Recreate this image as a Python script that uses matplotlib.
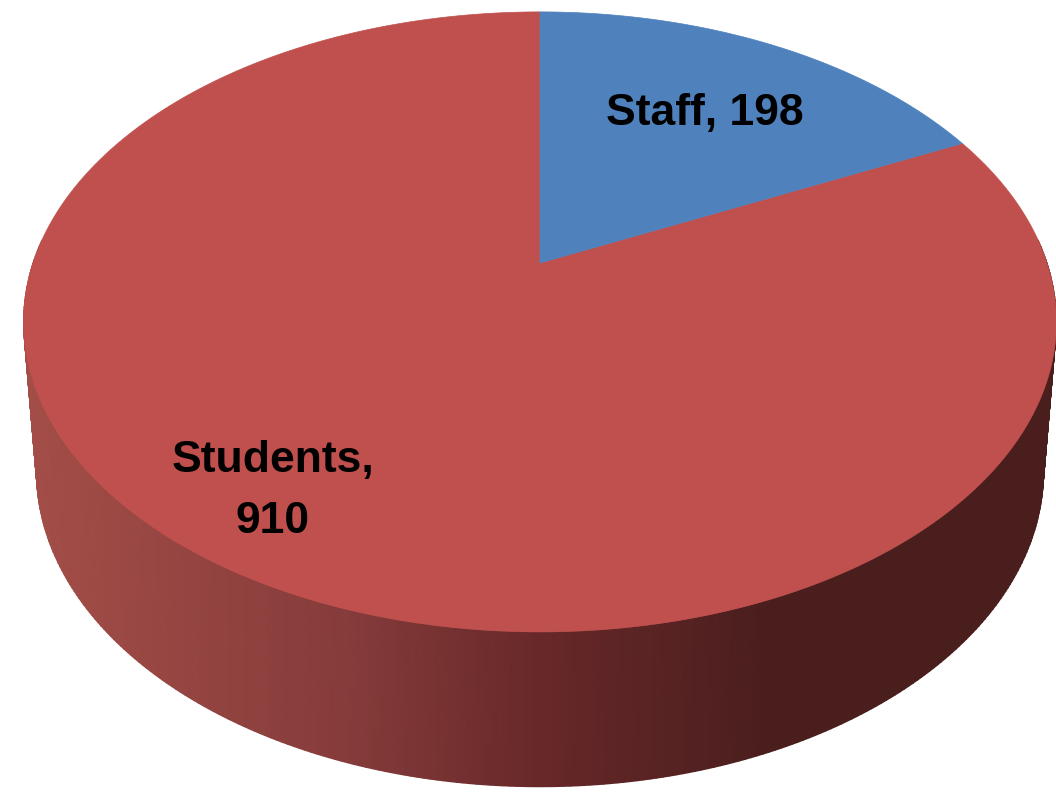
import numpy as np
import matplotlib
matplotlib.use('Agg')
import matplotlib.pyplot as plt
from matplotlib.colors import LinearSegmentedColormap

categories = ['Staff', 'Students']
values = [198, 910]
colors = ['#4f81bd', '#c0504d']

# side shading, left to right
side_colors = ['#a44e48', '#863c3b', '#682829', '#4b1e1e', '#4b1e1e']
side_stops = [0.0, 0.31, 0.5, 0.72, 1.0]

# pie position in pixels
cx, cy = 540, 263
k = 0.19
a, b = 298.8, 507

def project(theta, sx=1.0, sy=1.0, dy=0.0):
    # theta clockwise from 12 o'clock, circle seen in perspective
    u = np.sin(theta)
    v = np.cos(theta)
    w = 1 + k * v
    x = b * u / w
    y = a * v / w
    return cx + sx * x, cy - sy * (y - 59.0) - 59.0 + dy

fig = plt.figure(figsize=(10.56, 7.94), dpi=100)
ax = fig.add_axes([0, 0, 1, 1])
ax.set_xlim(0, 1056)
ax.set_ylim(794, 0)
ax.axis('off')

# side of the pie
t = np.radians(np.linspace(90 - 4.5, 270 + 4.5, 300))
x_top, y_top = project(t)
x_bot, y_bot = project(t, sx=0.975, sy=1.016, dy=148)
X = np.vstack([x_top, x_bot])
Y = np.vstack([y_top, y_bot])
C = (X - X.min()) / (X.max() - X.min())
cmap = LinearSegmentedColormap.from_list('side', list(zip(side_stops, side_colors)))
ax.pcolormesh(X, Y, C, cmap=cmap, shading='gouraud', vmin=0, vmax=1, antialiased=True)

# top face, one slice per value, clockwise from 12 o'clock
edges = np.cumsum([0] + values) / sum(values) * 2 * np.pi
for i in [1, 0]:
    th = np.linspace(edges[i], edges[i + 1], 300)
    xs, ys = project(th)
    ax.fill(np.r_[cx, xs], np.r_[cy, ys], color=colors[i], lw=0.5)

font = dict(family='Liberation Sans', fontweight='bold', fontsize=32, color='black',
            ha='center', va='center', linespacing=1.62)
ax.text(705, 113, f'{categories[0]}, {values[0]}', **font)
ax.text(273, 491, f'{categories[1]},\n{values[1]}', **font)

fig.savefig('out.png', dpi=100, facecolor='white')
